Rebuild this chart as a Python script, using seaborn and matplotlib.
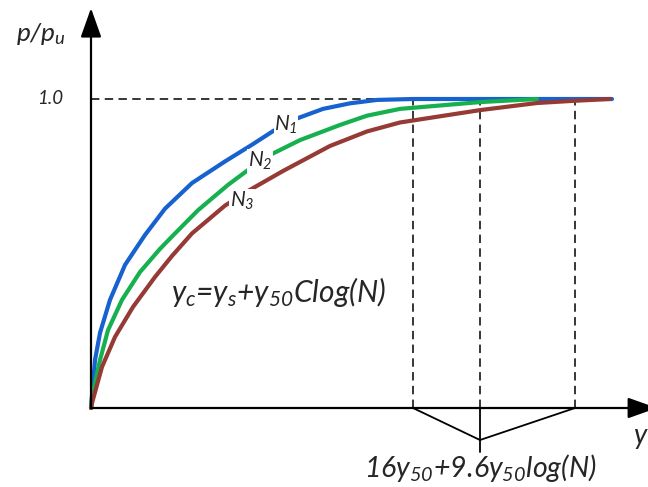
import numpy as np
import pandas as pd
import matplotlib
matplotlib.use("Agg")
import matplotlib.pyplot as plt
import seaborn as sns

# ---- data (x in arbitrary displacement units, y = p/pu) ----
n1_x = [0, 0.04, 0.09, 0.19, 0.34, 0.54, 0.74, 1.01, 1.34, 1.61, 1.82, 2.06, 2.32, 2.59, 2.86, 3.22, 5.21]
n1_y = [0, 0.155, 0.243, 0.350, 0.463, 0.560, 0.645, 0.728, 0.798, 0.852, 0.896, 0.937, 0.968, 0.986, 0.997, 1.0, 1.0]

n2_x = [0, 0.01, 0.09, 0.17, 0.31, 0.49, 0.69, 0.81, 1.07, 1.37, 1.59, 1.81, 2.09, 2.49, 2.76, 3.09, 3.89, 4.46]
n2_y = [0, 0.036, 0.155, 0.252, 0.350, 0.440, 0.515, 0.555, 0.640, 0.722, 0.775, 0.822, 0.867, 0.916, 0.946, 0.968, 0.990, 1.0]

n3_x = [0, 0.01, 0.11, 0.24, 0.42, 0.64, 0.81, 1.01, 1.34, 1.59, 1.92, 2.39, 2.76, 3.09, 3.89, 4.46, 4.82, 5.19]
n3_y = [0, 0.016, 0.133, 0.230, 0.327, 0.424, 0.492, 0.565, 0.655, 0.706, 0.767, 0.848, 0.895, 0.924, 0.964, 0.987, 0.994, 1.0]

curve_names = ["N1", "N2", "N3"]
curve_colors = ["#1762cf", "#17b04f", "#953a35"]
y_marks = [3.22, 3.89, 4.84]     # displacement where each curve reaches p/pu = 1

df = pd.concat([
    pd.DataFrame({"x": n1_x, "y": n1_y, "curve": "N1"}),
    pd.DataFrame({"x": n2_x, "y": n2_y, "curve": "N2"}),
    pd.DataFrame({"x": n3_x, "y": n3_y, "curve": "N3"}),
], ignore_index=True)

sns.set_theme(style="white")
plt.rcParams["font.family"] = ["Lato", "DejaVu Sans"]
plt.rcParams["mathtext.fontset"] = "custom"
plt.rcParams["mathtext.rm"] = "Lato:italic"
plt.rcParams["mathtext.it"] = "Lato:italic"
plt.rcParams["mathtext.sf"] = "Lato:italic"
plt.rcParams["mathtext.bf"] = "Lato:bold:italic"

fig = plt.figure(figsize=(6.48, 4.87), dpi=100)
ax = fig.add_axes([0, 0, 1, 1])
ax.set_xlim(-0.91, 5.57)
ax.set_ylim(-79 / 309, 408 / 309)
ax.axis("off")

sns.lineplot(data=df, x="x", y="y", hue="curve", hue_order=curve_names,
             palette=dict(zip(curve_names, curve_colors)), estimator=None,
             sort=False, lw=3, legend=False, ax=ax, solid_capstyle="round",
             solid_joinstyle="round", zorder=3)

# axes with arrows
arrow_kw = dict(arrowstyle="-|>,head_length=0.9,head_width=0.32", lw=1.6,
                color="black", mutation_scale=20, shrinkA=0, shrinkB=0)
ax.annotate("", xy=(0, 1.294), xytext=(0, 0), arrowprops=arrow_kw, annotation_clip=False)
ax.annotate("", xy=(5.66, 0), xytext=(0, 0), arrowprops=arrow_kw, annotation_clip=False)

# dashed guide lines
dash = (0, (5.5, 3.5))
ax.plot([0, y_marks[0]], [1, 1], ls=dash, lw=1.1, color="black", zorder=2)
for xm in y_marks:
    ax.plot([xm, xm], [0, 1], ls=dash, lw=1.1, color="black", zorder=2)

# bracket below axis
ax.plot([y_marks[0], y_marks[1], y_marks[2]], [0, -0.1036, 0], color="black", lw=1.3)
ax.plot([y_marks[1], y_marks[1]], [0, -0.142], color="black", lw=1.3)

# labels
bb = dict(facecolor="white", edgecolor="none", pad=0.5)
ax.text(1.95, 0.915, "$N_1$", fontsize=15, ha="center", va="center", bbox=bb, zorder=5)
ax.text(1.69, 0.80, "$N_2$", fontsize=15, ha="center", va="center", bbox=bb, zorder=5)
ax.text(1.51, 0.67, "$N_3$", fontsize=15, ha="center", va="center", bbox=bb, zorder=5)

ax.text(1.87, 0.375, "$y_c$=$y_s$+$y_{50}$Clog(N)", fontsize=21.5, style="italic",
        ha="center", va="center")
ax.text(3.89, -0.195, "16$y_{50}$+9.6$y_{50}$log(N)", fontsize=20.5, style="italic",
        ha="center", va="center")
ax.text(5.43, -0.09, "y", fontsize=20, style="italic", ha="left", va="center")
ax.text(-0.50, 1.21, "$p/p_u$", fontsize=19, ha="center", va="center")
ax.text(-0.41, 1.0, "1.0", fontsize=13.5, style="italic", ha="center", va="center")

fig.savefig("out.png", dpi=100)
